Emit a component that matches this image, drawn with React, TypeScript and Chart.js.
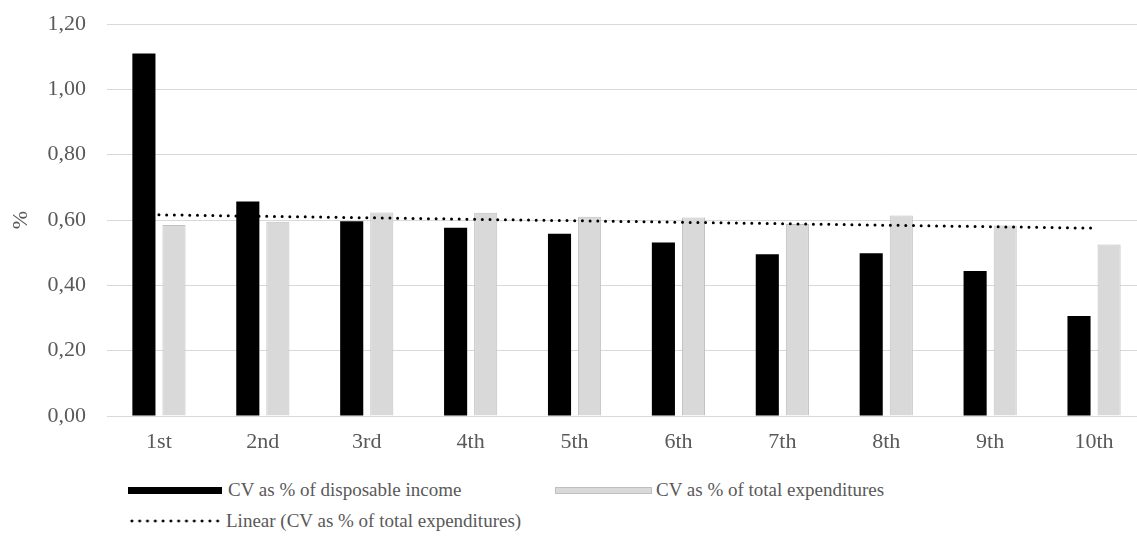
import React, { useEffect, useRef } from "react";
import { Chart, registerables } from "chart.js";

Chart.register(...registerables);

const categories = ["1st", "2nd", "3rd", "4th", "5th", "6th", "7th", "8th", "9th", "10th"];
const incomeCV = [1.11, 0.657, 0.596, 0.576, 0.558, 0.531, 0.495, 0.498, 0.444, 0.306];
const expenditureCV = [0.585, 0.595, 0.623, 0.622, 0.61, 0.608, 0.588, 0.614, 0.583, 0.525];
const trendStart = 0.616;
const trendEnd = 0.575;
const yTicks = [0, 0.2, 0.4, 0.6, 0.8, 1.0, 1.2];

const labelIncome = "CV as % of disposable income";
const labelExp = "CV as % of total expenditures";
const labelTrend = "Linear (CV as % of total expenditures)";

const FONT = '"Liberation Serif", "Times New Roman", serif';
const TEXT = "#595959";

export default function App() {
  const ref = useRef<HTMLCanvasElement | null>(null);

  useEffect(() => {
    if (!ref.current) return;
    const trend = categories.map((_, i) =>
      i === 0 ? trendStart : i === categories.length - 1 ? trendEnd : null
    );
    const chart = new Chart(ref.current, {
      type: "bar",
      data: {
        labels: categories,
        datasets: [
          {
            type: "line",
            label: labelTrend,
            data: trend,
            borderColor: "#000000",
            borderWidth: 3,
            borderDash: [0, 7.7],
            borderCapStyle: "round",
            pointRadius: 0,
            spanGaps: true,
            fill: false,
            order: 0,
          } as any,
          {
            label: labelIncome,
            data: incomeCV,
            backgroundColor: "#000000",
            borderWidth: 0,
            categoryPercentage: 0.579,
            barPercentage: 0.768,
            order: 1,
          },
          {
            label: labelExp,
            data: expenditureCV,
            backgroundColor: "#d9d9d9",
            borderColor: "#bfbfbf",
            borderWidth: 1,
            categoryPercentage: 0.579,
            barPercentage: 0.768,
            order: 2,
          },
        ],
      },
      options: {
        responsive: false,
        animation: false,
        devicePixelRatio: 1,
        layout: { padding: { top: 24, right: 19, left: 0, bottom: 0 } },
        plugins: {
          legend: { display: false },
          tooltip: { enabled: false },
        },
        scales: {
          x: {
            grid: { display: false, drawTicks: false },
            border: { display: true, color: "#d9d9d9", width: 1 },
            ticks: {
              color: TEXT,
              font: { family: FONT, size: 22 },
              padding: 13,
              maxRotation: 0,
              autoSkip: false,
            },
            afterFit: (s: any) => {
              s.height = 54;
            },
          },
          y: {
            min: 0,
            max: 1.2,
            afterBuildTicks: (s: any) => {
              s.ticks = yTicks.map((v) => ({ value: v }));
            },
            grid: { color: "#d9d9d9", lineWidth: 1, drawTicks: false },
            border: { display: false },
            ticks: {
              color: TEXT,
              font: { family: FONT, size: 22 },
              padding: 21,
              callback: (v: any) => Number(v).toFixed(2).replace(".", ","),
            },
            title: {
              display: true,
              text: "%",
              color: TEXT,
              font: { family: FONT, size: 22 },
              padding: { top: 8, bottom: 0 },
            },
            afterFit: (s: any) => {
              s.width = 107;
              s.paddingTop = 0;
              s.paddingBottom = 0;
            },
          },
        },
      },
    });
    return () => chart.destroy();
  }, []);

  const textStyle: React.CSSProperties = {
    position: "absolute",
    fontFamily: FONT,
    fontSize: 19,
    color: TEXT,
    lineHeight: "24px",
    height: 24,
    whiteSpace: "nowrap",
  };

  return (
    <div
      style={{
        position: "fixed",
        left: 0,
        top: 0,
        width: 1137,
        height: 548,
        overflow: "hidden",
        background: "#ffffff",
      }}
    >
      <canvas ref={ref} width={1165} height={470} style={{ display: "block" }} />
      <div style={{ position: "absolute", left: 128, top: 487, width: 94, height: 7, background: "#000000" }} />
      <div style={{ ...textStyle, left: 228, top: 478 }}>{labelIncome}</div>
      <div
        style={{
          position: "absolute",
          left: 555,
          top: 487,
          width: 97,
          height: 7,
          background: "#d9d9d9",
          border: "1px solid #bfbfbf",
          boxSizing: "border-box",
        }}
      />
      <div style={{ ...textStyle, left: 656, top: 478 }}>{labelExp}</div>
      <div
        style={{
          position: "absolute",
          left: 128,
          top: 519,
          width: 94,
          height: 4,
          backgroundImage: "radial-gradient(circle, #000000 1.3px, rgba(0,0,0,0) 1.7px)",
          backgroundSize: "7.8px 4px",
          backgroundRepeat: "repeat-x",
        }}
      />
      <div style={{ ...textStyle, left: 226, top: 509 }}>{labelTrend}</div>
    </div>
  );
}
